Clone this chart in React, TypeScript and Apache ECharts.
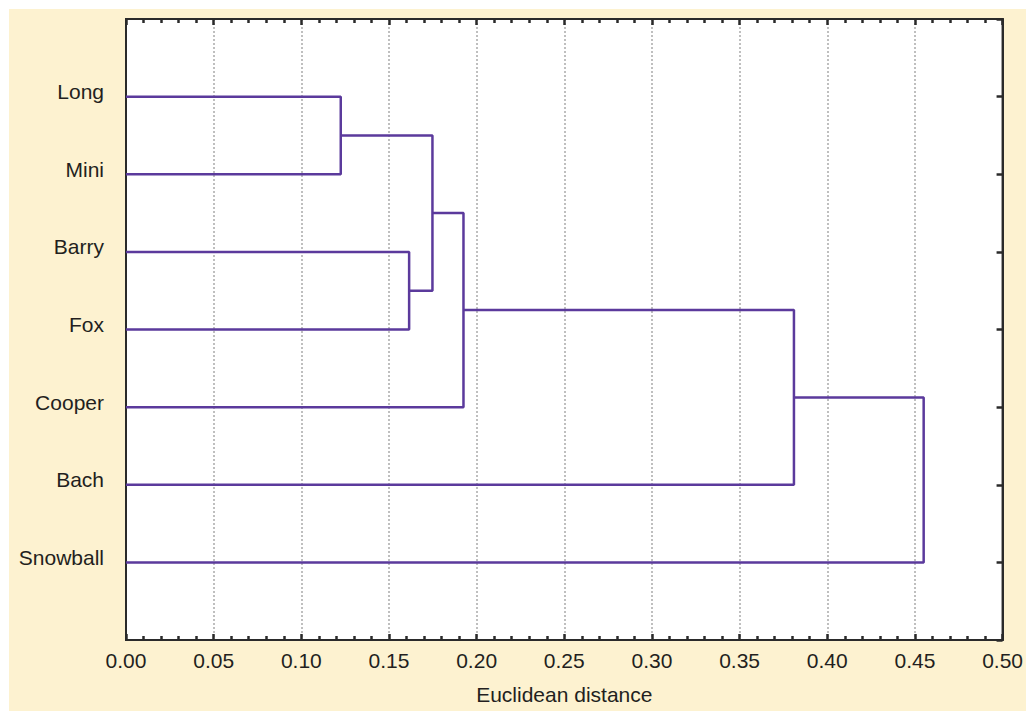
import React, { useEffect, useRef } from "react";
import * as echarts from "echarts";

const leaves = ["Long", "Mini", "Barry", "Fox", "Cooper", "Bach", "Snowball"];
// merges (scipy-style indices: 0..6 leaves, 7+ merged clusters)
const mergeLeft = [0, 2, 7, 9, 10, 11];
const mergeRight = [1, 3, 8, 4, 5, 6];
const mergeHeight = [0.1225, 0.1615, 0.1748, 0.1925, 0.381, 0.455];
const xTicks = [0, 0.05, 0.1, 0.15, 0.2, 0.25, 0.3, 0.35, 0.4, 0.45, 0.5];

const LINE = "#5B3A9C";
const TEXT = "#231F20";
const AXIS = "#2a2a2a";
const FONT = "'Liberation Sans', Arial, sans-serif";
const FS = 21;

export default function App() {
  const ref = useRef<HTMLDivElement>(null);
  useEffect(() => {
    if (!ref.current) return;
    const chart = echarts.init(ref.current, undefined, { renderer: "svg" });
    const ys: number[] = leaves.map((_, i) => i + 1);
    const hs: number[] = leaves.map(() => 0);
    const series: any[] = [];
    mergeLeft.forEach((l, k) => {
      const r = mergeRight[k];
      const h = mergeHeight[k];
      series.push({
        type: "line",
        symbol: "none",
        silent: true,
        lineStyle: { color: LINE, width: 2.5 },
        data: [
          [hs[l], ys[l]],
          [h, ys[l]],
          [h, ys[r]],
          [hs[r], ys[r]],
        ],
      });
      ys.push((ys[l] + ys[r]) / 2);
      hs.push(h);
    });
    const min = xTicks[0];
    const max = xTicks[xTicks.length - 1];
    const interval = xTicks[1] - xTicks[0];
    chart.setOption({
      animation: false,
      backgroundColor: "transparent",
      grid: {
        left: 117,
        top: 10,
        width: 877,
        height: 621,
        show: true,
        backgroundColor: "#ffffff",
        borderColor: AXIS,
        borderWidth: 2,
      },
      xAxis: [
        {
          type: "value",
          min,
          max,
          interval,
          position: "bottom",
          name: "Euclidean distance",
          nameLocation: "middle",
          nameGap: 44,
          nameTextStyle: { color: TEXT, fontSize: FS, fontFamily: FONT },
          axisLine: { show: true, onZero: false, lineStyle: { color: AXIS, width: 2 } },
          axisTick: { show: true, inside: true, length: 6, lineStyle: { color: AXIS, width: 2.5 } },
          minorTick: { show: true, splitNumber: 5, length: 4, lineStyle: { color: AXIS, width: 2.5 } },
          axisLabel: {
            color: TEXT,
            fontSize: FS,
            fontFamily: FONT,
            margin: 10,
            formatter: (v: number) => v.toFixed(2),
          },
          splitLine: { show: true, lineStyle: { color: "#aaaaaa", type: [2, 2], width: 1.5 } },
        },
        {
          type: "value",
          min,
          max,
          interval,
          position: "top",
          axisLine: { show: true, onZero: false, lineStyle: { color: AXIS, width: 2 } },
          axisTick: { show: true, inside: true, length: 6, lineStyle: { color: AXIS, width: 2.5 } },
          minorTick: { show: true, splitNumber: 5, length: 4, lineStyle: { color: AXIS, width: 2.5 } },
          axisLabel: { show: false },
          splitLine: { show: false },
        },
      ],
      yAxis: [
        {
          type: "value",
          min: 0,
          max: leaves.length + 1,
          interval: 1,
          inverse: true,
          position: "left",
          axisLine: { show: true, onZero: false, lineStyle: { color: AXIS, width: 2 } },
          axisTick: { show: false },
          splitLine: { show: false },
          axisLabel: {
            color: TEXT,
            fontSize: FS,
            fontFamily: FONT,
            margin: 22,
            verticalAlign: "bottom",
            lineHeight: 10,
            formatter: (v: number) => (v >= 1 && v <= leaves.length ? leaves[v - 1] : ""),
          },
        },
        {
          type: "value",
          min: 0,
          max: leaves.length + 1,
          interval: 1,
          inverse: true,
          position: "right",
          axisLine: { show: true, onZero: false, lineStyle: { color: AXIS, width: 2 } },
          axisTick: { show: true, inside: true, length: 6, lineStyle: { color: AXIS, width: 2.5 } },
          splitLine: { show: false },
          axisLabel: { show: false },
        },
      ],
      series,
    });
    return () => chart.dispose();
  }, []);
  return (
    <div
      style={{
        position: "absolute",
        left: 9,
        top: 9,
        width: 1017,
        height: 702,
        background: "#FDF2D0",
      }}
    >
      <div ref={ref} style={{ width: 1017, height: 702 }} />
    </div>
  );
}
